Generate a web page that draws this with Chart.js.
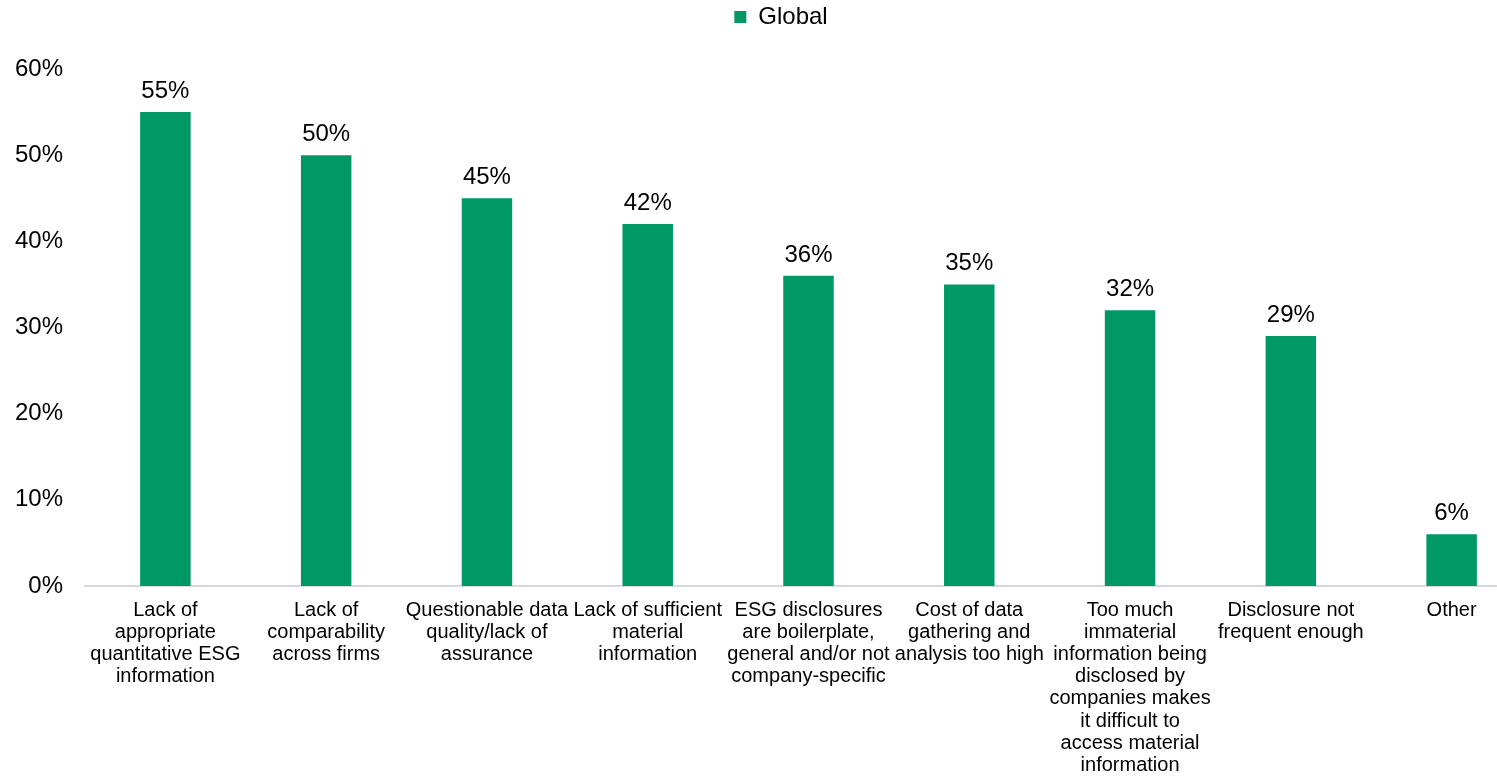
<!DOCTYPE html>
<html>
<head>
<meta charset="utf-8">
<title>Global – ESG data challenges</title>
<script src="https://cdn.jsdelivr.net/npm/chart.js@4/dist/chart.umd.min.js"></script>
<style>
  html, body { margin: 0; padding: 0; background: #fff; overflow: hidden; }
  #wrap { position: relative; width: 1532px; height: 776px; }
</style>
</head>
<body>
<div id="wrap"><canvas id="chart" width="1532" height="776"></canvas></div>
<script>
// Categories, wrapped into lines for the axis labels
const categories = [
  ["Lack of", "appropriate", "quantitative ESG", "information"],
  ["Lack of", "comparability", "across firms"],
  ["Questionable data", "quality/lack of", "assurance"],
  ["Lack of sufficient", "material", "information"],
  ["ESG disclosures", "are boilerplate,", "general and/or not", "company-specific"],
  ["Cost of data", "gathering and", "analysis too high"],
  ["Too much", "immaterial", "information being", "disclosed by", "companies makes", "it difficult to", "access material", "information"],
  ["Disclosure not", "frequent enough"],
  ["Other"]
];

// Share of respondents (%)
const globalValues = [55, 50, 45, 42, 36, 35, 32, 29, 6];

// Y axis ticks (%)
const yTicks = [0, 10, 20, 30, 40, 50, 60];

const seriesName = "Global";
const barColor = "#009966";
const fontFamily = "'Liberation Sans', Arial, sans-serif";

// Writes the percentage above each bar
const valueLabels = {
  id: "valueLabels",
  afterDatasetsDraw(chart) {
    const ctx = chart.ctx;
    const meta = chart.getDatasetMeta(0);
    const data = chart.data.datasets[0].data;
    ctx.save();
    ctx.font = "24px " + fontFamily;
    ctx.fillStyle = "#000";
    ctx.textAlign = "center";
    ctx.textBaseline = "alphabetic";
    meta.data.forEach((bar, i) => {
      ctx.fillText(Math.round(data[i]) + "%", bar.x, bar.y - 14);
    });
    ctx.restore();
  }
};

// Leaves extra room under the legend and centres it over the plot area
const legendPlacement = {
  id: "legendPlacement",
  beforeLayout(chart) {
    const legend = chart.legend;
    if (!legend || legend._gapPatched) return;
    const fit = legend.fit;
    legend.fit = function () {
      fit.call(this);
      this.height += 30;
    };
    legend._gapPatched = true;
  },
  afterLayout(chart) {
    const legend = chart.legend;
    if (legend) legend.left = chart.chartArea.left - 55;
  }
};

new Chart(document.getElementById("chart"), {
  type: "bar",
  data: {
    labels: categories,
    datasets: [{
      label: seriesName,
      data: globalValues,
      backgroundColor: barColor,
      borderWidth: 0,
      categoryPercentage: 1.0,
      barPercentage: 0.314
    }]
  },
  options: {
    responsive: false,
    animation: false,
    layout: { padding: { top: 0, right: 0, bottom: 0, left: 0 } },
    plugins: {
      legend: {
        display: true,
        position: "top",
        labels: {
          boxWidth: 12,
          boxHeight: 12,
          padding: 5,
          color: "#000",
          font: { family: fontFamily, size: 24 }
        }
      },
      tooltip: { enabled: false }
    },
    scales: {
      x: {
        grid: { display: false, drawTicks: false },
        border: { display: true, color: "#d9d9d9", width: 2 },
        ticks: {
          autoSkip: false,
          maxRotation: 0,
          minRotation: 0,
          padding: 13,
          color: "#000",
          font: { family: fontFamily, size: 20, lineHeight: 1.11 }
        },
        afterFit(scale) { scale.height = 190; }
      },
      y: {
        min: 0,
        max: 60,
        grid: { display: false, drawTicks: false },
        border: { display: false },
        afterBuildTicks(scale) { scale.ticks = yTicks.map(v => ({ value: v })); },
        ticks: {
          padding: 22,
          color: "#000",
          font: { family: fontFamily, size: 24 },
          callback: v => v + "%"
        },
        afterFit(scale) { scale.width = 85; }
      }
    }
  },
  plugins: [valueLabels, legendPlacement]
});
</script>
</body>
</html>
